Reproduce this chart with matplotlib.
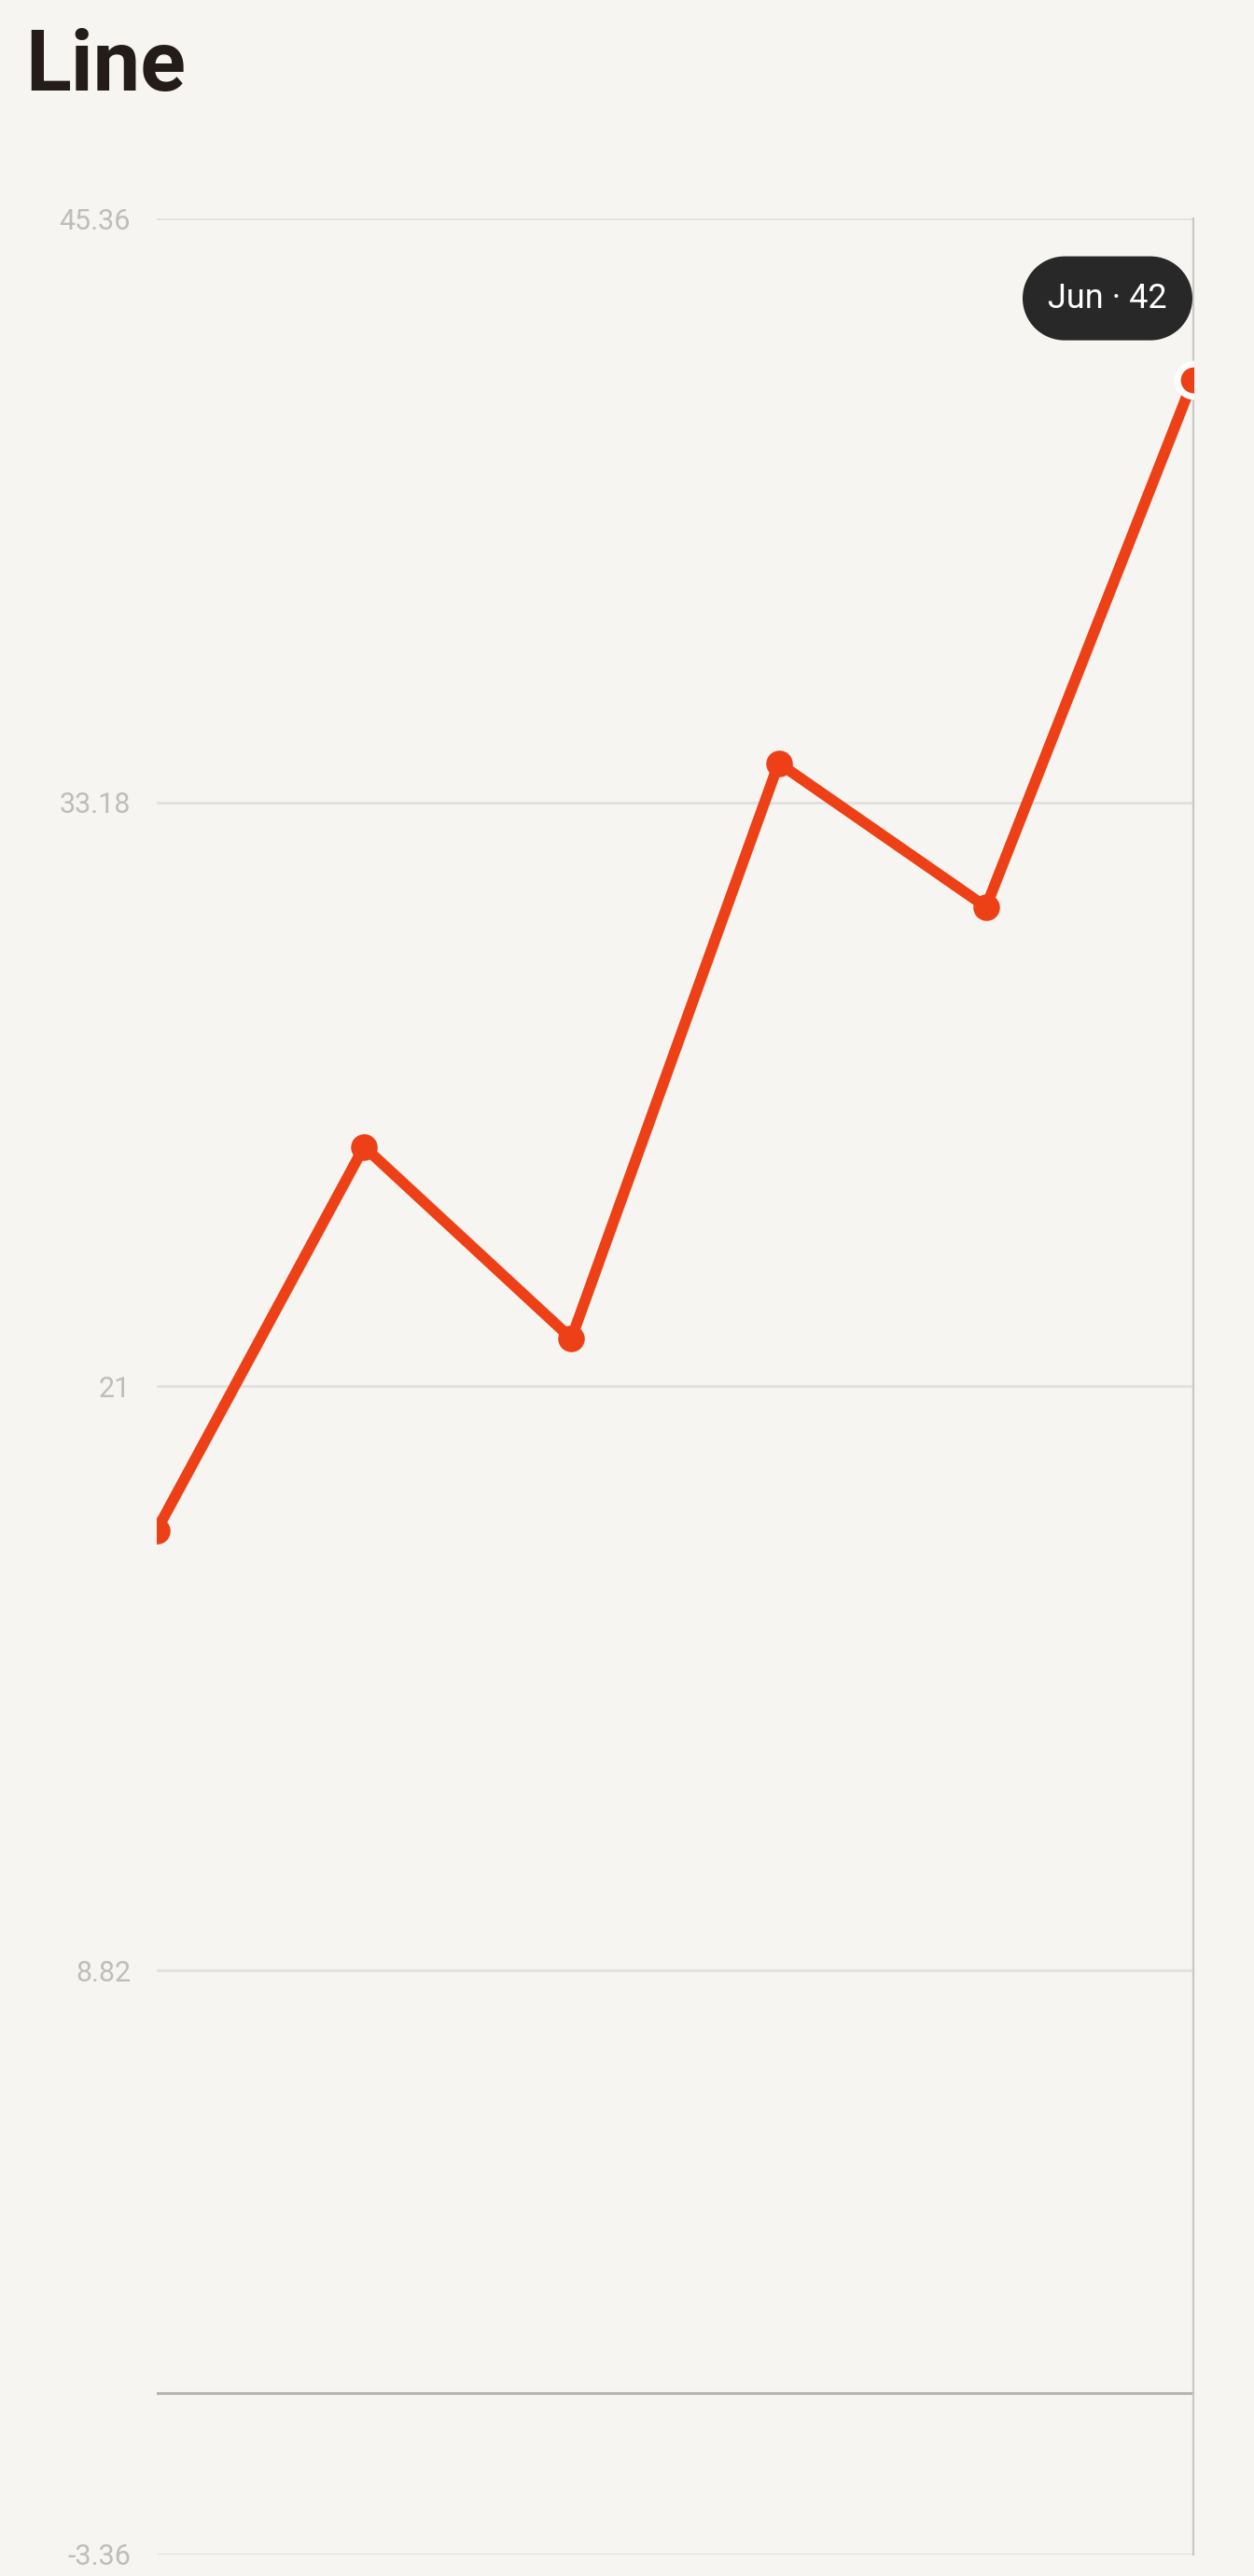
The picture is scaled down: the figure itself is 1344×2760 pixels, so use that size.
import matplotlib
matplotlib.use("Agg")
import numpy as np
import matplotlib.pyplot as plt
import matplotlib.transforms as mtransforms
from matplotlib.patches import PathPatch
from matplotlib.path import Path

months = ["Jan", "Feb", "Mar", "Apr", "May", "Jun"]
values = [18, 26, 22, 34, 31, 42]
y_ticks = [-3.36, 8.82, 21, 33.18, 45.36]
y_tick_labels = ["-3.36", "8.82", "21", "33.18", "45.36"]
title = "Line"

BG = "#F6F5F1"
RED = "#EE4016"

plt.rcParams['font.family'] = ['Roboto', 'DejaVu Sans']

fig = plt.figure(figsize=(13.44, 27.6), dpi=100, facecolor=BG)
ax = fig.add_axes([168/1344, 23/2760, (1279-168)/1344, (2737-234)/2760])
ax.set_facecolor(BG)

x = list(range(len(months)))
ax.set_xlim(0, len(months) - 1)
ax.set_ylim(y_ticks[0], y_ticks[-1])

for t in y_ticks:
    ax.axhline(t, color="#E3E2DE", lw=2.2, zorder=1)
ax.axhline(0, color="#B4B4B4", lw=2.2, zorder=1.5)

ax.plot(x, values, color=RED, lw=8.4, solid_joinstyle='round', solid_capstyle='round',
        zorder=3, clip_on=True)
ax.plot(x[:-1], values[:-1], 'o', color=RED, ms=19.5, zorder=4, clip_on=True)
ax.plot(x[-1:], values[-1:], 'o', color=RED, ms=25, mec="white", mew=5, zorder=5, clip_on=True)

ax.set_yticks(y_ticks)
ax.set_yticklabels(y_tick_labels)
ax.set_xticks([])
ax.tick_params(axis='y', length=0, pad=20, labelsize=22, labelcolor="#BDBDBD")
for s in ["left", "top", "bottom"]:
    ax.spines[s].set_visible(False)
ax.spines["right"].set_color("#C8C8C8")
ax.spines["right"].set_linewidth(1.6)

# tooltip pill anchored to the last point, sized in pixels
trans = mtransforms.Affine2D() + mtransforms.ScaledTranslation(x[-1], values[-1], ax.transData)
r = 45
left_c, right_c, cy = -183 + r, -1 - r, 87
a1 = Path.arc(-90, 90)
a2 = Path.arc(90, 270)
v1 = a1.vertices * r + [right_c, cy]
v2 = a2.vertices * r + [left_c, cy]
c1 = a1.codes.copy()
c2 = a2.codes.copy()
c2[0] = Path.LINETO
verts = np.vstack([v1, v2, v1[:1]])
codes = np.concatenate([c1, c2, [Path.CLOSEPOLY]])
ax.add_patch(PathPatch(Path(verts, codes), transform=trans, facecolor="#282828",
                       edgecolor="none", clip_on=False, zorder=6))
ax.text(-92, 87, f"{months[-1]} \u00b7 {values[-1]}", transform=trans, ha="center",
        va="center", color="white", fontsize=26, zorder=7, clip_on=False)

fig.text(27/1344, 1 - 97/2760, title, ha="left", va="baseline", fontsize=65,
         fontweight="bold", color="#231C18")

fig.savefig("out.png", dpi=100, facecolor=BG)
